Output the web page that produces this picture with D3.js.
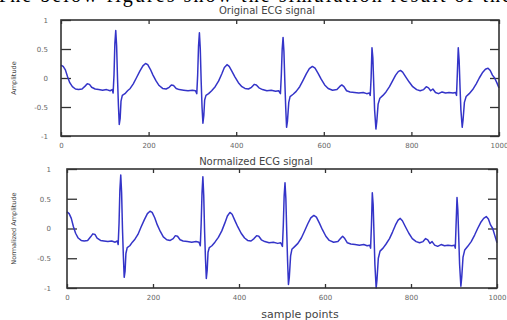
<!DOCTYPE html>
<html>
<head>
<meta charset="utf-8">
<script src="https://cdn.jsdelivr.net/npm/d3@7"></script>
<style>
  html, body { margin: 0; padding: 0; background: #fff; }
  svg { display: block; }
</style>
</head>
<body>
<div id="chart"></div>
<script>
const xTicks = [0, 200, 400, 600, 800, 1000];
const yTicks = [-1, -0.5, 0, 0.5, 1];
const panelTitles = ["Original ECG signal", "Normalized ECG signal"];
const yLabels = ["Amplitude", "Normalized Amplitude"];
const xLabel = "sample points";
const captionText = "The below figures show the simulation result of the";

// [sample, amplitude]
const originalEcg = [
  [0,0.22],[5,0.2],[10,0.14],[15,0.02],[20,-0.08],[26,-0.15],[33,-0.19],[40,-0.2],[48,-0.19],[55,-0.14],
  [60,-0.1],[65,-0.11],[70,-0.16],[78,-0.19],[86,-0.2],[95,-0.21],[104,-0.2],[112,-0.22],[117,-0.2],[119,-0.26],
  [121,0.05],[123,0.6],[125,0.82],[127,0.55],[129,0.0],[131,-0.45],[133,-0.8],[135,-0.7],[137,-0.4],[140,-0.3],
  [146,-0.27],[152,-0.22],[158,-0.18],[165,-0.1],[172,0.0],[180,0.12],[187,0.21],[193,0.25],[198,0.23],[204,0.15],
  [210,0.05],[217,-0.05],[224,-0.13],[232,-0.18],[240,-0.19],[247,-0.16],[252,-0.12],[257,-0.13],[263,-0.18],[270,-0.2],
  [280,-0.21],[290,-0.22],[300,-0.21],[307,-0.22],[310,-0.27],[312,0.05],[314,0.55],[316,0.78],[318,0.5],[320,-0.05],
  [322,-0.5],[324,-0.78],[326,-0.65],[328,-0.38],[331,-0.3],[337,-0.27],[344,-0.22],[352,-0.15],[360,-0.05],[367,0.07],
  [373,0.18],[379,0.23],[384,0.2],[390,0.12],[397,0.02],[405,-0.08],[413,-0.15],[420,-0.18],[428,-0.19],[435,-0.16],
  [441,-0.11],[446,-0.12],[452,-0.17],[460,-0.2],[470,-0.22],[480,-0.21],[490,-0.23],[497,-0.22],[501,-0.27],[503,0.05],
  [505,0.5],[507,0.7],[509,0.45],[511,-0.05],[513,-0.5],[515,-0.85],[517,-0.75],[520,-0.42],[523,-0.32],[530,-0.28],
  [537,-0.23],[545,-0.15],[552,-0.05],[560,0.07],[567,0.16],[574,0.2],[580,0.17],[587,0.08],[594,-0.02],[602,-0.12],
  [610,-0.18],[620,-0.21],[630,-0.2],[636,-0.15],[641,-0.12],[646,-0.15],[652,-0.22],[660,-0.24],[670,-0.25],[680,-0.26],
  [690,-0.25],[698,-0.27],[704,-0.26],[706,-0.3],[708,0.0],[710,0.52],[712,0.35],[714,-0.1],[716,-0.55],[719,-0.88],
  [721,-0.75],[724,-0.45],[728,-0.35],[735,-0.3],[742,-0.24],[750,-0.15],[757,-0.05],[764,0.05],[770,0.11],[775,0.13],
  [780,0.1],[787,0.02],[795,-0.07],[803,-0.15],[812,-0.2],[820,-0.22],[828,-0.2],[834,-0.15],[839,-0.17],[844,-0.22],
  [849,-0.19],[855,-0.25],[862,-0.27],[870,-0.24],[878,-0.26],[886,-0.25],[895,-0.26],[901,-0.25],[903,-0.3],[905,0.1],
  [907,0.52],[909,0.3],[911,-0.15],[913,-0.55],[916,-0.85],[918,-0.72],[921,-0.42],[925,-0.32],[932,-0.27],[940,-0.2],
  [948,-0.1],[955,0.0],[962,0.09],[969,0.15],[975,0.17],[980,0.13],[985,0.05],[990,0.0],[995,-0.08],[1000,-0.17]
];

// [sample, normalized amplitude]
const normalizedEcg = [
  [0,0.28],[5,0.25],[10,0.17],[15,0.03],[20,-0.08],[26,-0.16],[33,-0.2],[40,-0.21],[48,-0.2],[55,-0.14],
  [60,-0.09],[65,-0.1],[70,-0.16],[78,-0.2],[86,-0.21],[95,-0.22],[104,-0.21],[112,-0.23],[117,-0.21],[119,-0.27],
  [121,0.08],[123,0.65],[125,0.9],[127,0.6],[129,0.0],[131,-0.45],[133,-0.82],[135,-0.72],[137,-0.42],[140,-0.32],
  [146,-0.29],[152,-0.23],[158,-0.18],[165,-0.1],[172,0.02],[180,0.15],[187,0.25],[193,0.29],[198,0.27],[204,0.18],
  [210,0.06],[217,-0.05],[224,-0.14],[232,-0.19],[240,-0.2],[247,-0.17],[252,-0.12],[257,-0.13],[263,-0.19],[270,-0.21],
  [280,-0.22],[290,-0.23],[300,-0.22],[307,-0.23],[310,-0.29],[312,0.08],[314,0.6],[316,0.87],[318,0.55],[320,-0.05],
  [322,-0.5],[324,-0.84],[326,-0.7],[328,-0.4],[331,-0.32],[337,-0.29],[344,-0.23],[352,-0.15],[360,-0.04],[367,0.09],
  [373,0.21],[379,0.27],[384,0.24],[390,0.14],[397,0.03],[405,-0.08],[413,-0.16],[420,-0.2],[428,-0.21],[435,-0.17],
  [441,-0.12],[446,-0.13],[452,-0.19],[460,-0.22],[470,-0.24],[480,-0.23],[490,-0.25],[497,-0.24],[501,-0.3],[503,0.05],
  [505,0.55],[507,0.77],[509,0.5],[511,-0.05],[513,-0.55],[515,-0.94],[517,-0.82],[520,-0.46],[523,-0.35],[530,-0.3],
  [537,-0.25],[545,-0.16],[552,-0.05],[560,0.08],[567,0.18],[574,0.22],[580,0.19],[587,0.09],[594,-0.02],[602,-0.13],
  [610,-0.2],[620,-0.23],[630,-0.22],[636,-0.17],[641,-0.13],[646,-0.17],[652,-0.24],[660,-0.26],[670,-0.27],[680,-0.28],
  [690,-0.27],[698,-0.29],[704,-0.28],[706,-0.33],[708,0.05],[710,0.6],[712,0.4],[714,-0.1],[716,-0.6],[719,-1.0],
  [721,-0.85],[724,-0.5],[728,-0.38],[735,-0.33],[742,-0.26],[750,-0.17],[757,-0.06],[764,0.06],[770,0.14],[775,0.17],
  [780,0.13],[787,0.03],[795,-0.08],[803,-0.17],[812,-0.22],[820,-0.24],[828,-0.22],[834,-0.17],[839,-0.19],[844,-0.25],
  [849,-0.22],[855,-0.28],[862,-0.3],[870,-0.27],[878,-0.29],[886,-0.28],[895,-0.29],[901,-0.28],[903,-0.33],[905,0.1],
  [907,0.52],[909,0.3],[911,-0.15],[913,-0.6],[916,-0.97],[918,-0.82],[921,-0.48],[925,-0.36],[932,-0.3],[940,-0.22],
  [948,-0.11],[955,0.0],[962,0.1],[969,0.17],[975,0.2],[980,0.16],[985,0.06],[990,0.0],[995,-0.12],[1000,-0.24]
];

const W = 507, H = 320;
const svg = d3.select("#chart").append("svg")
  .attr("width", W)
  .attr("height", H);

// only the lower edge of the page text above the figure shows
svg.append("text")
  .attr("x", -4)
  .attr("y", 2)
  .attr("textLength", 515)
  .attr("lengthAdjust", "spacing")
  .attr("font-family", "Liberation Serif, serif")
  .attr("font-size", "20px")
  .attr("fill", "#000")
  .text(captionText);

const fmt = d => String(d);

function drawPanel(opts) {
  const x = d3.scaleLinear().domain([0, 1000]).range([opts.left, opts.right]);
  const y = d3.scaleLinear().domain([-1, 1]).range([opts.bottom, opts.top]);
  const g = svg.append("g");

  // inward ticks on all four sides, labels only left and bottom
  const yl = g.append("g")
    .attr("transform", `translate(${opts.left},0)`)
    .call(d3.axisLeft(y).tickValues(yTicks).tickSize(-10).tickPadding(opts.yPad).tickFormat(fmt));
  const yr = g.append("g")
    .attr("transform", `translate(${opts.right},0)`)
    .call(d3.axisRight(y).tickValues(yTicks).tickSize(-9).tickFormat(""));
  const xb = g.append("g")
    .attr("transform", `translate(0,${opts.bottom})`)
    .call(d3.axisBottom(x).tickValues(xTicks).tickSize(-4).tickPadding(7).tickFormat(fmt));
  const xt = g.append("g")
    .attr("transform", `translate(0,${opts.top})`)
    .call(d3.axisTop(x).tickValues(xTicks).tickSize(-4).tickFormat(""));

  [yl, yr, xb, xt].forEach(a => {
    a.select(".domain").remove();
    a.selectAll("line").attr("stroke", "#333").attr("stroke-width", 1.3);
    a.selectAll("text").attr("fill", "#666").attr("font-size", "7px")
      .attr("font-family", "DejaVu Sans, sans-serif");
  });

  // signal
  const line = d3.line().x(d => x(d[0])).y(d => y(d[1]));
  g.append("path")
    .datum(opts.data)
    .attr("d", line)
    .attr("fill", "none")
    .attr("stroke", "#3434c8")
    .attr("stroke-width", 1.5)
    .attr("stroke-linejoin", "round");

  // frame
  g.append("rect")
    .attr("x", opts.left)
    .attr("y", opts.top)
    .attr("width", opts.right - opts.left)
    .attr("height", opts.bottom - opts.top)
    .attr("fill", "none")
    .attr("stroke", "#333")
    .attr("stroke-width", 1.6);

  g.append("text")
    .attr("x", opts.titleX)
    .attr("y", opts.titleY)
    .attr("text-anchor", "middle")
    .attr("font-family", "DejaVu Sans, sans-serif")
    .attr("font-size", "10px")
    .attr("fill", "#444")
    .text(opts.title);

  g.append("text")
    .attr("transform", `translate(${opts.yLabelX},${(opts.top + opts.bottom) / 2}) rotate(-90)`)
    .attr("text-anchor", "middle")
    .attr("font-family", "DejaVu Sans, sans-serif")
    .attr("font-size", "6.5px")
    .attr("fill", "#444")
    .text(opts.yLabel);

  return { x, y };
}

drawPanel({
  data: originalEcg, title: panelTitles[0], yLabel: yLabels[0],
  left: 61, right: 499, top: 20, bottom: 136,
  yPad: 13, titleX: 267, titleY: 14, yLabelX: 16
});

drawPanel({
  data: normalizedEcg, title: panelTitles[1], yLabel: yLabels[1],
  left: 67, right: 497, top: 169, bottom: 288,
  yPad: 16, titleX: 256, titleY: 165, yLabelX: 16
});

svg.append("text")
  .attr("x", 300)
  .attr("y", 318)
  .attr("text-anchor", "middle")
  .attr("font-family", "DejaVu Sans, sans-serif")
  .attr("font-size", "11px")
  .attr("fill", "#444")
  .text(xLabel);
</script>
</body>
</html>
